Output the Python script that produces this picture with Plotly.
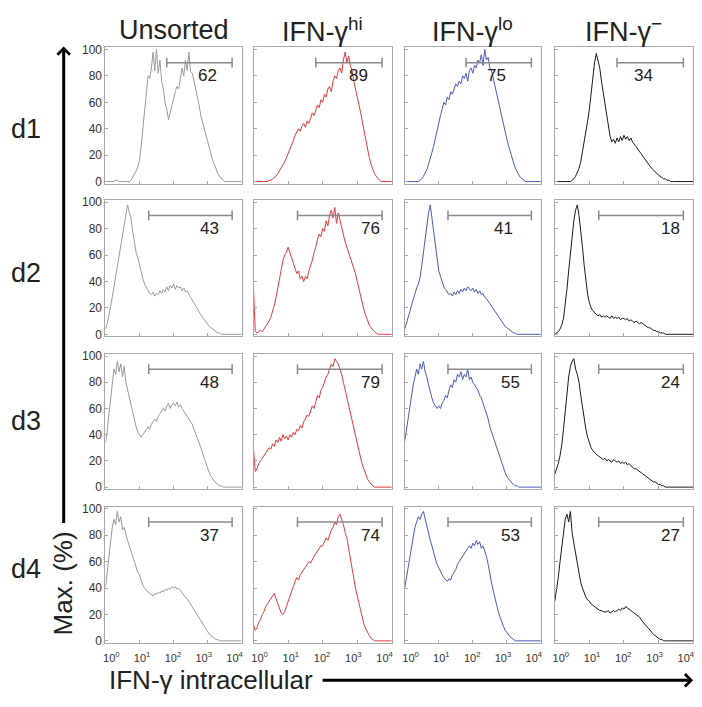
import plotly.graph_objects as go

# ---------------- data ----------------
# bin positions (log10 of fluorescence), 0.05-decade steps from 10^0 to 10^4
log_bins = [i * 0.05 for i in range(81)]

row_labels = ["d1", "d2", "d3", "d4"]
col_titles = ["Unsorted", "IFN-γ<sup>hi</sup>", "IFN-γ<sup>lo</sup>", "IFN-γ<sup>−</sup>"]
x_tick_vals = [1, 10, 100, 1000, 10000]
x_tick_text = ["10<sup>0</sup>", "10<sup>1</sup>", "10<sup>2</sup>", "10<sup>3</sup>", "10<sup>4</sup>"]
y_tick_vals = [0, 20, 40, 60, 80, 100]

# gated percentages (row = day, col = sorted population)
gate_pct = [
    [62, 89, 75, 34],
    [43, 76, 41, 18],
    [48, 79, 55, 24],
    [37, 74, 53, 27],
]
# gate limits (log10)
gate_lo = [1.8, 1.27, 1.27, 1.27]
gate_hi = [3.72, 3.72, 3.72, 3.72]
# label x position (log10) per panel
label_pos = [
    [3.0, 3.05, 2.69, 2.56],
    [3.05, 3.37, 2.9, 3.35],
    [3.05, 3.37, 3.1, 3.35],
    [3.05, 3.37, 3.1, 3.35],
]

Z10 = [0] * 10
# d1
U1 = [0,0,0,0,0,0,1,1,0,0, 0,0,0,0,0,1,3,5,8,11, 16,27,40,55,68,80,78,86,98,84,
      100,82,92,76,70,60,55,47,52,58, 62,68,72,70,78,86,80,92,84,98,
      83,82,76,70,66,58,50,45,40,34, 30,26,21,16,13,9,6,4,2,1] + Z10 + [0]
H1 = [0,0,0,0,0,0,0,0,0,1, 1,2,3,4,6,8,10,12,15,18, 21,24,28,31,35,37,40,38,42,44,
      41,46,44,48,52,50,55,58,56,62, 60,66,64,70,72,68,76,80,78,84,
      86,82,92,98,90,95,88,84,76,70, 66,60,52,45,38,30,24,18,13,9,
      6,4,2,1,0,0,0,0,0,0, 0]
L1 = [0,0,0,0,0,0,0,0,0,1, 2,4,6,9,13,17,22,27,33,40, 46,50,55,60,58,64,62,68,66,70,
      74,72,76,74,80,78,82,76,84,86, 82,88,86,92,90,96,88,100,92,94,
      86,84,78,72,66,60,54,48,42,36, 32,27,22,18,14,10,7,5,3,2,
      1,0,0,0,0,0,0,0,0,0, 0]
N1 = [0,0,0,0,0,0,0,0,0,0, 1,2,4,7,10,15,22,30,38,46, 55,66,80,90,97,92,86,76,68,60,
      50,42,34,30,32,29,33,30,34,31, 35,32,34,31,33,30,28,26,25,22,
      21,19,17,15,14,12,10,9,7,6, 5,4,3,2,2,1,1,0,0,0] + Z10 + [0]
# d2
U2 = [4,8,14,20,28,36,44,52,60,68, 76,84,90,98,92,88,78,70,62,58, 52,46,42,38,35,33,31,30,32,29,
      31,30,33,31,34,32,36,33,37,35, 38,34,37,35,36,33,35,32,33,30,
      28,26,24,22,20,18,15,13,11,9, 8,6,5,4,3,2,1,1,0,0] + Z10 + [0]
H2 = [33,2,1,2,3,2,4,5,8,10, 13,17,22,28,35,42,50,56,60,62, 66,62,58,54,50,46,48,42,44,40,
      44,42,48,52,56,62,66,72,76,74, 80,78,86,82,90,94,88,96,84,92,
      86,80,76,70,66,62,58,54,50,46, 40,34,28,22,18,14,10,7,5,3,
      2,1,0,0,0,0,0,0,0,0, 0]
L2 = [4,8,12,17,22,27,31,35,38,43, 52,62,74,84,92,98,88,76,64,58, 48,44,40,36,34,32,30,31,29,32,
      30,33,31,34,32,35,33,36,34,33, 35,32,34,31,33,30,31,28,27,25,
      24,22,20,18,16,14,12,10,8,6, 5,4,3,2,1,1,0,0,0,0] + Z10 + [0]
N2 = [0,1,2,4,7,12,22,34,48,62, 76,86,94,98,90,80,66,52,40,30, 24,20,18,16,15,14,15,13,14,13,
      14,13,12,14,12,13,12,13,11,12, 12,11,12,10,11,10,9,10,9,8,
      9,8,7,6,5,5,4,3,3,2, 2,1,1,1,0,0,0,0,0,0] + Z10 + [0]
# d3
U3 = [34,42,55,68,80,90,86,96,88,94, 84,92,80,74,68,62,56,50,46,42, 40,38,40,42,44,46,44,48,50,52,
      50,54,56,58,60,58,62,64,60,63, 64,62,65,61,63,60,58,56,54,52,
      50,48,44,41,38,34,30,26,22,18, 14,11,8,6,4,3,2,1,1,0] + Z10 + [0]
H3 = [28,12,14,18,20,22,24,26,28,30, 29,33,31,36,34,38,35,40,37,39, 36,40,38,42,40,44,43,47,45,50,
      52,55,54,58,62,60,66,70,68,74, 76,80,84,86,90,94,92,98,96,94,
      90,86,80,74,70,64,58,52,46,38, 32,27,22,17,13,9,6,4,2,1] + Z10 + [0]
L3 = [35,44,52,62,70,78,84,90,86,94, 90,96,88,84,78,72,68,64,62,60, 62,60,64,66,70,68,74,78,76,82,
      80,86,84,88,82,86,84,90,82,84, 80,78,76,74,70,68,64,60,56,52,
      46,42,38,34,30,26,22,18,14,11, 8,6,4,3,2,1,1,0,0,0] + Z10 + [0]
N3 = [10,14,18,24,32,44,58,72,84,92, 96,98,90,86,80,70,60,52,44,38, 34,30,28,26,25,24,23,22,21,22,
      20,21,20,19,21,20,19,20,18,19, 18,19,17,18,16,15,14,14,13,12,
      11,10,9,8,7,6,5,4,4,3, 2,2,1,1,0,0,0,0,0,0] + Z10 + [0]
# d4
U4 = [40,52,64,76,86,92,88,98,90,94, 84,86,80,76,72,68,64,60,56,52, 50,46,42,40,38,37,36,35,34,36,
      35,37,36,38,37,39,38,40,39,41, 40,41,39,40,38,36,35,33,32,30,
      28,26,24,22,20,18,15,13,11,9, 7,5,4,3,2,1,1,0,0,0] + Z10 + [0]
H4 = [12,8,10,14,16,20,22,26,28,30, 32,34,36,32,28,24,21,20,22,26, 30,34,38,42,45,48,46,50,52,54,
      56,58,60,59,62,64,66,68,70,72, 72,75,78,76,80,84,86,90,88,94,
      96,92,88,82,78,70,62,54,48,40, 34,28,22,17,12,9,6,4,2,1] + Z10 + [0]
L4 = [40,48,56,64,72,80,86,90,94,92, 96,98,92,86,80,76,72,66,62,58, 55,52,50,48,46,45,47,46,50,52,
      54,58,60,62,64,66,68,70,72,70, 74,72,76,73,75,70,72,68,64,58,
      50,44,38,32,27,22,18,14,11,8, 6,4,3,2,1,0,0,0,0,0] + Z10 + [0]
N4 = [30,38,48,60,72,84,92,96,90,98, 82,74,66,58,50,44,40,36,33,31, 30,28,27,26,25,24,23,23,22,22,
      22,23,21,22,23,22,23,24,23,25, 24,26,25,24,23,22,21,20,19,18,
      16,14,12,11,10,8,7,5,4,3, 2,1,1,0,0,0,0,0,0,0] + Z10 + [0]

curves = [
    [U1, H1, L1, N1],
    [U2, H2, L2, N2],
    [U3, H3, L3, N3],
    [U4, H4, L4, N4],
]
col_colors = ["#9a9a9a", "#e03a3a", "#4a5cb8", "#1a1a1a"]

# ---------------- layout geometry (target pixels) ----------------
OFF = 8                        # page body margin
FW, FH = 702 - OFF, 707 - OFF  # figure size so that it fits the window


def px(x):
    return (x - OFF) / FW


def py(y):
    return 1 - (y - OFF) / FH


col_left = [104, 253, 405, 556]
col_right = [241, 392, 542, 695]
row_top = [43, 198, 354, 509]
row_bot = [181, 336, 491, 647]
row_label_y = [126, 272, 422, 572]
# the printed decade labels sit slightly inside the panel edges in the original
label_axis_range = [-0.19, 4.23]

FONT = "Liberation Sans, Arial, sans-serif"
FRAME = "#a8a8a8"

fig = go.Figure()
layout = dict(
    width=FW, height=FH, margin=dict(l=0, r=0, t=0, b=0),
    paper_bgcolor="white", plot_bgcolor="white", showlegend=False,
    font=dict(family=FONT, color="#333"),
)
annotations = []
xs = [10 ** v for v in log_bins]

for r in range(4):
    for c in range(4):
        k = r * 4 + c + 1
        xa = "x" if k == 1 else f"x{k}"
        ya = "y" if k == 1 else f"y{k}"
        xkey = "xaxis" if k == 1 else f"xaxis{k}"
        ykey = "yaxis" if k == 1 else f"yaxis{k}"
        layout[xkey] = dict(
            domain=[px(col_left[c]), px(col_right[c])], anchor=ya, type="log",
            range=[0, 4], showgrid=False, zeroline=False,
            showline=True, linecolor=FRAME, linewidth=1, mirror=True,
            ticks="inside", ticklen=3, tickcolor=FRAME,
            tickvals=x_tick_vals, showticklabels=False,
        )
        layout[ykey] = dict(
            domain=[py(row_bot[r]), py(row_top[r])], anchor=xa,
            range=[-1.5, 101.5], showgrid=False, zeroline=False,
            showline=True, linecolor=FRAME, linewidth=1, mirror=True,
            ticks="inside", ticklen=3, tickcolor=FRAME,
            tickvals=y_tick_vals, showticklabels=(c == 0),
            tickfont=dict(size=12, color="#333", family=FONT),
        )
        fig.add_trace(go.Scatter(
            x=xs, y=curves[r][c], mode="lines", xaxis=xa, yaxis=ya,
            line=dict(color=col_colors[c], width=1), hoverinfo="skip",
        ))
        # gate bar
        fig.add_trace(go.Scatter(
            x=[10 ** gate_lo[r], 10 ** gate_hi[r]],
            y=[90, 90], mode="lines+markers", xaxis=xa, yaxis=ya,
            line=dict(color="#8a8a8a", width=1.5),
            marker=dict(symbol="line-ns", size=7, line=dict(color="#8a8a8a", width=1.5)),
            hoverinfo="skip",
        ))
        annotations.append(dict(
            x=label_pos[r][c], y=80, xref=xa, yref=ya, text=str(gate_pct[r][c]),
            xanchor="center", yanchor="middle",
            showarrow=False, font=dict(size=17, color="#222", family=FONT),
        ))

# decade labels under the bottom row
for c in range(4):
    k = 17 + c
    base = 13 + c
    layout[f"xaxis{k}"] = dict(
        domain=[px(col_left[c]), px(col_right[c])], anchor=f"y{base}",
        overlaying=f"x{base}", type="log", range=label_axis_range,
        showgrid=False, zeroline=False, showline=False, ticks="",
        tickvals=x_tick_vals, ticktext=x_tick_text, ticklabelstandoff=7,
        tickfont=dict(size=11, color="#333", family=FONT),
    )
    fig.add_trace(go.Scatter(x=[], y=[], xaxis=f"x{k}", yaxis=f"y{base}",
                             mode="lines", hoverinfo="skip"))

# column titles
for c in range(4):
    annotations.append(dict(
        x=px((col_left[c] + col_right[c]) / 2), y=py(25), xref="paper", yref="paper",
        xanchor="center", yanchor="middle",
        text=col_titles[c], showarrow=False, font=dict(size=27, color="#222", family=FONT),
    ))
# row labels
for r in range(4):
    annotations.append(dict(
        x=px(24), y=py(row_label_y[r]), xref="paper", yref="paper",
        xanchor="center", yanchor="middle",
        text=row_labels[r], showarrow=False, font=dict(size=27, color="#222", family=FONT),
    ))

# axis arrows and titles
annotations.append(dict(
    x=px(62), y=py(42), xref="paper", yref="paper", text="",
    showarrow=True, ax=0, ay=478, arrowhead=4, arrowsize=0.8, arrowwidth=3, arrowcolor="#000",
))
annotations.append(dict(
    x=px(695), y=py(685), xref="paper", yref="paper", text="",
    showarrow=True, ax=-372, ay=0, arrowhead=4, arrowsize=0.8, arrowwidth=3, arrowcolor="#000",
))
annotations.append(dict(
    x=px(61), y=py(587), xref="paper", yref="paper", text="Max. (%)", textangle=-90,
    xanchor="center", yanchor="middle",
    showarrow=False, font=dict(size=26, color="#222", family=FONT),
))
annotations.append(dict(
    x=px(210), y=py(685), xref="paper", yref="paper", text="IFN-γ intracellular",
    xanchor="center", yanchor="middle",
    showarrow=False, font=dict(size=26, color="#222", family=FONT),
))

layout["annotations"] = annotations
fig.update_layout(**layout)
fig.write_html("out.html")
